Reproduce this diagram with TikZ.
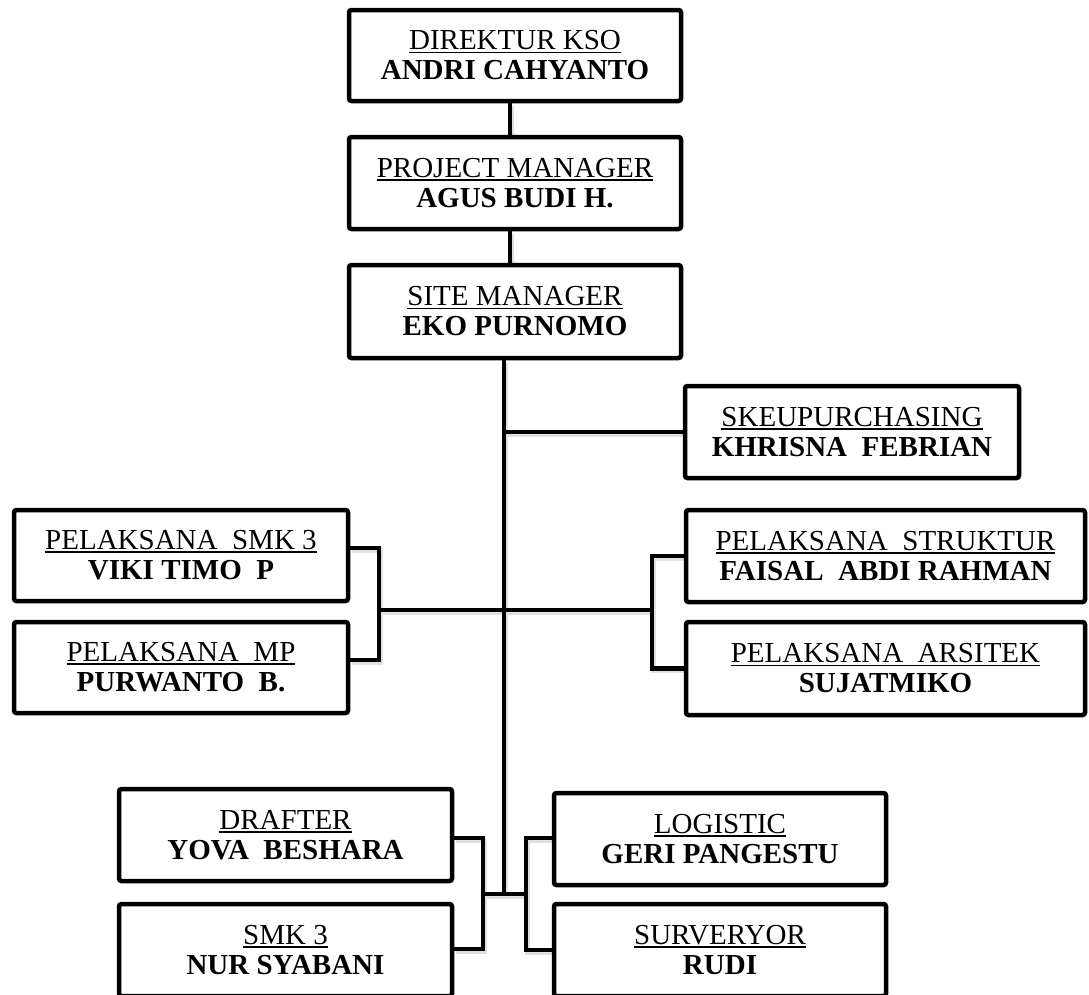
\documentclass[tikz,border=0pt]{standalone}
\usepackage{fontspec}
\setmainfont{Liberation Serif}
\usetikzlibrary{calc,backgrounds}
\newsavebox\ulbox
\newcommand\ulin[1]{\sbox\ulbox{#1}\rlap{\rule[-3.2pt]{\wd\ulbox}{1.6pt}}\usebox\ulbox}
\newcommand\drawconns[1]{%
  \draw[#1] (tx |- 0,360) -- (bj);
  \draw[#1] (lb) -- (rb);
  \draw[#1] (blb) -- (brb);
  \draw[#1] (dir.south -| cx) -- (pm.north -| cx);
  \draw[#1] (pm.south -| cx) -- (sm.north -| cx);
  \draw[#1] (skeu.west) -- (skeu.west -| tx);
  \draw[#1] (pms.east |- lbt) -- (lbt) -- (lbb) -- (pmp.east |- lbb);
  \draw[#1] (pstr.west) -- (pstr.west -| rb) -- (pars.west -| rb) -- (pars.west);
  \draw[#1] (drf.east |- 0,838) -- (blb |- 0,838) -- (blb |- 0,949) -- (smk.east |- 0,949);
  \draw[#1] (log.west |- 0,838) -- (brb |- 0,838) -- (brb |- 0,950) -- (srv.west |- 0,950);
}
\begin{document}
\begin{tikzpicture}[x=1pt,y=-1pt,
  box/.style={draw, line width=4.5pt, rounded corners=2.5pt, inner sep=0pt,
    align=center, fill=white, font=\fontsize{29}{30}\selectfont},
  conn/.style={line width=4.5pt, black},
  shad/.style={line width=4.5pt, black!12}]
\useasboundingbox (0,0) rectangle (1089,994);
\clip (0,0) rectangle (1089,994);
% named coordinates for connector lines
\coordinate (cx) at (510,0);
\coordinate (tx) at (504,0);
\coordinate (lb) at (379,610);
\coordinate (lbt) at (379,548);
\coordinate (lbb) at (379,660);
\coordinate (rb) at (652,610);
\coordinate (bj) at (504,894);
\coordinate (blb) at (483,894);
\coordinate (brb) at (526,894);
% boxes
\node[box, minimum width=332pt, minimum height=91pt] (dir) at (515,55.5)
  {\ulin{DIREKTUR KSO}\\\textbf{ANDRI CAHYANTO}};
\node[box, minimum width=332pt, minimum height=92pt] (pm) at (515,183)
  {\ulin{PROJECT MANAGER}\\\textbf{AGUS BUDI H.}};
\node[box, minimum width=332pt, minimum height=93pt] (sm) at (515,311.5)
  {\ulin{SITE MANAGER}\\\textbf{EKO PURNOMO}};
\node[box, minimum width=334pt, minimum height=92pt] (skeu) at (852,432)
  {\ulin{SKEUPURCHASING}\\\textbf{KHRISNA~ FEBRIAN}};
\node[box, minimum width=334pt, minimum height=91pt] (pms) at (181,555.5)
  {\ulin{PELAKSANA~ SMK 3}\\\textbf{VIKI TIMO~ P}};
\node[box, minimum width=334pt, minimum height=91pt] (pmp) at (181,667.5)
  {\ulin{PELAKSANA~ MP}\\\textbf{PURWANTO~ B.}};
\node[box, minimum width=399pt, minimum height=92pt] (pstr) at (885.5,556)
  {\ulin{PELAKSANA~ STRUKTUR}\\\textbf{FAISAL~ ABDI RAHMAN}};
\node[box, minimum width=399pt, minimum height=93pt] (pars) at (885.5,668.5)
  {\ulin{PELAKSANA~ ARSITEK}\\\textbf{SUJATMIKO}};
\node[box, minimum width=333pt, minimum height=92pt] (drf) at (285.5,835)
  {\ulin{DRAFTER}\\\textbf{YOVA~ BESHARA}};
\node[box, minimum width=333pt, minimum height=92pt] (smk) at (285.5,950)
  {\ulin{SMK 3}\\\textbf{NUR SYABANI}};
\node[box, minimum width=332pt, minimum height=92pt] (log) at (720,839)
  {\ulin{LOGISTIC}\\\textbf{GERI PANGESTU}};
\node[box, minimum width=332pt, minimum height=92pt] (srv) at (720,950)
  {\ulin{SURVERYOR}\\\textbf{RUDI}};
% soft shadows of the connectors
\begin{pgfonlayer}{background}
  \begin{scope}[transform canvas={xshift=1.5pt,yshift=-2.5pt}]
    \drawconns{shad}
  \end{scope}
\end{pgfonlayer}
% connectors
\drawconns{conn}
\end{tikzpicture}
\end{document}
